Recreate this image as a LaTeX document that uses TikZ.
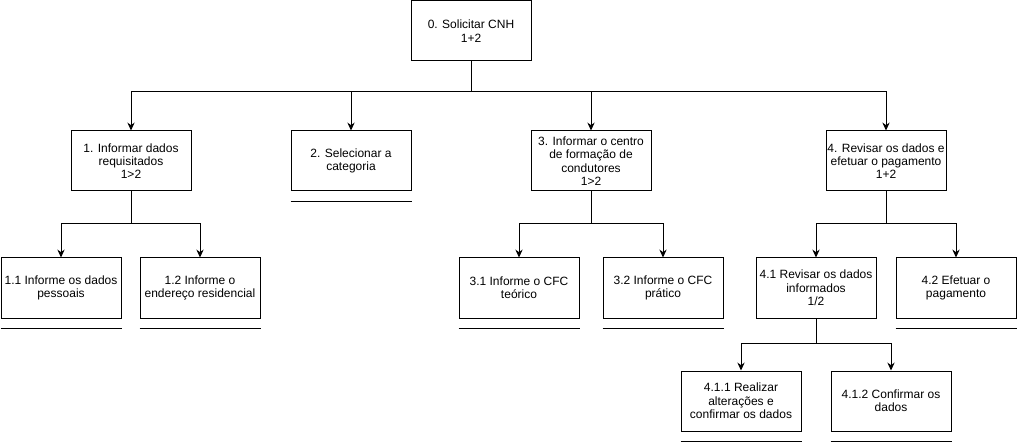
\documentclass[tikz,border=0pt]{standalone}
\usepackage{fontspec}
\setmainfont{Liberation Sans}
\usetikzlibrary{arrows.meta}

\tikzset{
  task/.style={draw, line width=0.75pt, minimum width=90pt, minimum height=45pt,
    align=center, inner sep=1pt, font=\fontsize{9}{10}\selectfont},
  link/.style={line width=0.75pt, -{Stealth[length=6pt,width=5.5pt,inset=2pt]}},
}

\begin{document}
\begin{tikzpicture}[x=0.75pt, y=-0.75pt]
        \useasboundingbox (0,0) rectangle (1020,445);

        \node[task] (n0)   at (471, 31) {0. Solicitar CNH\\1+2};

        \node[task] (n1)   at (131,161) {1. Informar dados\\requisitados\\1>2};
        \node[task] (n2)   at (351,161) {2. Selecionar a\\categoria};
        \node[task] (n3)   at (591,161) {3. Informar o centro\\de formação de\\condutores\\1>2};
        \node[task] (n4)   at (886,161) {4. Revisar os dados e\\efetuar o pagamento\\1+2};

        \node[task] (n11)  at ( 61,288) {1.1 Informe os dados\\pessoais};
        \node[task] (n12)  at (200,288) {1.2 Informe o\\endereço residencial};
        \node[task] (n31)  at (519,288) {3.1 Informe o CFC\\teórico};
        \node[task] (n32)  at (663,288) {3.2 Informe o CFC\\prático};
        \node[task] (n41)  at (816,288) {4.1 Revisar os dados\\informados\\1/2};
        \node[task] (n42)  at (956,288) {4.2 Efetuar o\\pagamento};

        \node[task] (n411) at (741,401) {4.1.1 Realizar\\alterações e\\confirmar os dados};
        \node[task] (n412) at (891,401) {4.1.2 Confirmar os\\dados};

        % level 0 -> 1
        \foreach \t in {n1,n2,n3,n4}
          \draw[link] (n0.south) -- ++(0,30) -| (\t.north);

        % level 1 -> 2
        \foreach \t in {n11,n12}
          \draw[link] (n1.south) -- ++(0,32) -| (\t.north);
        \foreach \t in {n31,n32}
          \draw[link] (n3.south) -- ++(0,32) -| (\t.north);
        \foreach \t in {n41,n42}
          \draw[link] (n4.south) -- ++(0,32) -| (\t.north);

        % level 2 -> 3
        \foreach \t in {n411,n412}
          \draw[link] (n41.south) -- ++(0,25) -| (\t.north);

        % leaves
        \foreach \t in {n2,n11,n12,n31,n32,n42,n411,n412}
          \draw[line width=0.75pt] ([yshift=-7.5pt]\t.south west) -- ([yshift=-7.5pt]\t.south east);
      \end{tikzpicture}
\end{document}
